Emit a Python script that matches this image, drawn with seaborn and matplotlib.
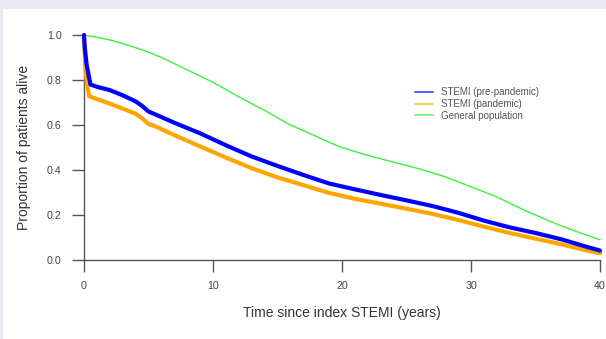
import numpy as np
import pandas as pd
import matplotlib
matplotlib.use("Agg")
import matplotlib.pyplot as plt
import seaborn as sns
from matplotlib.patches import Rectangle

# ---- data ----
years_pre = [0, 0.05, 0.2, 0.5, 1, 2, 3, 4, 4.5, 5, 5.5, 7, 9, 11, 13, 15, 17, 19, 21,
             23, 25, 27, 29, 31, 33, 35, 37, 39, 40]
surv_pre = [1.0, 0.95, 0.87, 0.78, 0.77, 0.755, 0.732, 0.705, 0.685, 0.66, 0.648, 0.61,
            0.563, 0.51, 0.46, 0.418, 0.378, 0.34, 0.314, 0.289, 0.265, 0.24, 0.21,
            0.175, 0.145, 0.12, 0.092, 0.058, 0.042]

years_pan = [0, 0.1, 0.2, 0.4, 1, 2, 3, 4, 4.5, 5, 5.5, 7, 9, 11, 13, 15, 17, 19, 21,
             23, 25, 27, 29, 31, 33, 35, 37, 39, 40]
surv_pan = [1.0, 0.86, 0.80, 0.728, 0.715, 0.695, 0.673, 0.65, 0.63, 0.605, 0.595, 0.555,
            0.505, 0.455, 0.408, 0.367, 0.333, 0.298, 0.272, 0.25, 0.228, 0.205, 0.178,
            0.148, 0.12, 0.095, 0.07, 0.042, 0.03]

years_gen = [0, 1, 2, 3, 4, 5, 6, 7, 8, 9, 10, 11, 12, 13, 14, 15, 16, 17, 18, 19, 20,
             21, 22, 23, 24, 25, 26, 27, 28, 29, 30, 31, 32, 33, 34, 35, 36, 37, 38, 39, 40]
surv_gen = [1.0, 0.99, 0.978, 0.962, 0.944, 0.924, 0.90, 0.873, 0.845, 0.818, 0.79,
            0.758, 0.725, 0.695, 0.665, 0.632, 0.60, 0.575, 0.55, 0.523, 0.50, 0.482,
            0.465, 0.45, 0.435, 0.42, 0.405, 0.388, 0.37, 0.348, 0.325, 0.303, 0.28,
            0.253, 0.225, 0.20, 0.175, 0.152, 0.13, 0.11, 0.09]

series_labels = ["STEMI (pre-pandemic)", "STEMI (pandemic)", "General population"]
x_ticks = [0, 10, 20, 30, 40]
y_ticks = [0.0, 0.2, 0.4, 0.6, 0.8, 1.0]
y_tick_labels = ["0.0", "0.2", "0.4", "0.6", "0.8", "1.0"]

sns.set_style("white")
plt.rcParams["font.family"] = ["Liberation Sans", "DejaVu Sans"]

W, H = 606, 339
fig = plt.figure(figsize=(W / 100, H / 100), dpi=100)
fig.patch.set_facecolor("white")
lav = "#ece7f3"
fig.patches.append(Rectangle((0, 1 - 9 / H), 1, 9 / H, transform=fig.transFigure,
                             facecolor=lav, edgecolor="none", zorder=-10))
fig.patches.append(Rectangle((0, 0), 3 / W, 1, transform=fig.transFigure,
                             facecolor=lav, edgecolor="none", zorder=-10))

ax = fig.add_axes([84 / W, 1 - 260 / H, (600 - 84) / W, (260 - 35) / H])
ax.set_facecolor("none")

df_pre = pd.DataFrame({"t": years_pre, "s": surv_pre})
df_pan = pd.DataFrame({"t": years_pan, "s": surv_pan})
df_gen = pd.DataFrame({"t": years_gen, "s": surv_gen})

sns.lineplot(data=df_gen, x="t", y="s", ax=ax, color="#3cf03c", lw=1.0,
             label=series_labels[2], clip_on=False, zorder=2)
sns.lineplot(data=df_pan, x="t", y="s", ax=ax, color="#ffa500", lw=3.0,
             label=series_labels[1], clip_on=False, zorder=3)
sns.lineplot(data=df_pre, x="t", y="s", ax=ax, color="#0000ff", lw=3.0,
             label=series_labels[0], clip_on=False, zorder=4)

ax.set_xlim(0, 40)
ax.set_ylim(0, 1)
ax.set_xticks(x_ticks)
ax.set_xticklabels([str(v) for v in x_ticks])
ax.set_yticks(y_ticks)
ax.set_yticklabels(y_tick_labels)

for side in ["top", "right"]:
    ax.spines[side].set_visible(False)
for side in ["left", "bottom"]:
    ax.spines[side].set_color("#555555")
    ax.spines[side].set_linewidth(1.0)
    ax.spines[side].set_zorder(1)

ax.tick_params(axis="both", direction="out", length=8.6, width=1.0, color="#555555",
               labelsize=7.7, labelcolor="#444444", bottom=True, left=True)
ax.tick_params(axis="y", pad=7.5)
ax.tick_params(axis="x", pad=6.8)

ax.set_xlabel("Time since index STEMI (years)", fontsize=10, color="#333333", labelpad=10.5)
ax.set_ylabel("Proportion of patients alive", fontsize=10, color="#333333", labelpad=11)

handles, labels = ax.get_legend_handles_labels()
order = [labels.index(l) for l in series_labels]
leg = ax.legend([handles[i] for i in order], [labels[i] for i in order],
                loc="upper left", bbox_to_anchor=((415 - 84) / (600 - 84), (260 - 87) / 225),
                frameon=False, fontsize=7.0, handlelength=1.9, handletextpad=0.8,
                labelspacing=0.2, borderaxespad=0, borderpad=0)
for line in leg.get_lines():
    line.set_linewidth(1.3)
    line.set_alpha(0.7)
for t in leg.get_texts():
    t.set_color("#555555")

fig.savefig("out.png", dpi=100, facecolor=fig.get_facecolor())
